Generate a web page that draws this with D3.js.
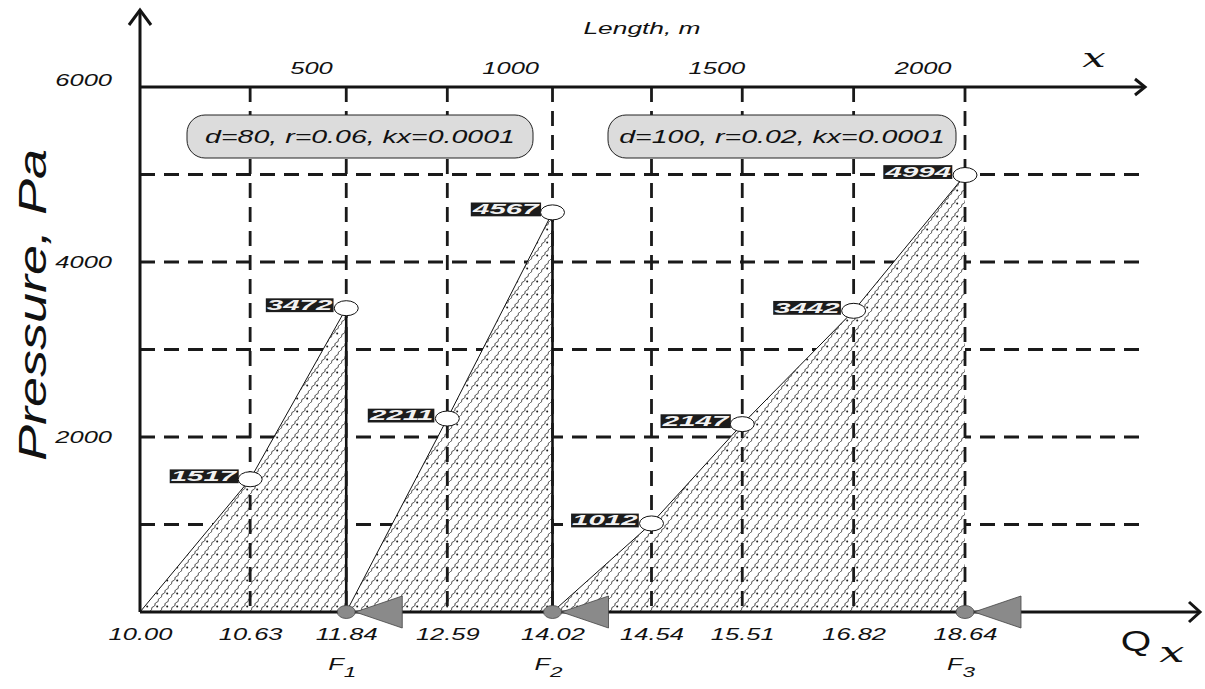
<!DOCTYPE html>
<html><head><meta charset="utf-8">
<script src="https://cdn.jsdelivr.net/npm/d3@7"></script>
<style>html,body{margin:0;padding:0;background:#fff}</style>
</head><body>
<svg id="chart" width="1205" height="689"></svg>
<script>
// Node positions along the pipeline (metres) and the flow at each node
const nodeLength = [0, 267, 500, 745, 1000, 1240, 1460, 1730, 2000];
const flowLabels = ["10.00", "10.63", "11.84", "12.59", "14.02", "14.54", "15.51", "16.82", "18.64"];

// Pressure build-up along each section (Pa)
const section1Length = [0, 267, 500];
const section1Pressure = [0, 1517, 3472];
const section2Length = [500, 745, 1000];
const section2Pressure = [0, 2211, 4567];
const section3Length = [1000, 1240, 1460, 1730, 2000];
const section3Pressure = [0, 1012, 2147, 3442, 4994];

// Inflow sources F1..F3
const sourceLength = [500, 1000, 2000];
const sourceNames = ["1", "2", "3"];

// Pipe parameters
const sectionParams = ["d=80, r=0.06, kx=0.0001", "d=100, r=0.02, kx=0.0001"];

// Axis ticks
const lengthTicks = [500, 1000, 1500, 2000];
const pressureTicks = [2000, 4000, 6000];
const pressureGrid = [1000, 2000, 3000, 4000, 5000];

const sections = [
  {len: section1Length, p: section1Pressure, edge: "solid"},
  {len: section2Length, p: section2Pressure, edge: "solid"},
  {len: section3Length, p: section3Pressure, edge: "none"}
];

const FONT = "'Liberation Sans', Arial, sans-serif";
const SX = 1.5; // horizontal stretch of the lettering

const svg = d3.select("#chart");
const x = d3.scaleLinear().domain([0, 2000]).range([140, 965]);
const y = d3.scaleLinear().domain([0, 6000]).range([612, 87]);
const xEnd = 1145, qEnd = 1200, yTop = 10;
const fmt = d3.format("d");

// hatch pattern: wavy diagonal strokes with dots
const defs = svg.append("defs");
const pw = 10, ph = 13;
const pat = defs.append("pattern").attr("id", "hatch")
  .attr("patternUnits", "userSpaceOnUse").attr("width", pw).attr("height", ph);
pat.append("rect").attr("width", pw).attr("height", ph).attr("fill", "#fff");
const len = Math.hypot(pw, ph), nx = ph / len, ny = pw / len;
let dp = "";
for (let i = 0; i <= 48; i++) {
  const t = i / 48;
  const w = 0.5 * Math.sin(t * Math.PI * 2 * 3);
  const px = pw * t + nx * w, py = ph - ph * t + ny * w;
  dp += (i ? "L" : "M") + px.toFixed(2) + "," + py.toFixed(2);
}
[-pw, 0, pw].forEach(o => {
  pat.append("path").attr("d", dp).attr("transform", `translate(${o},0)`)
    .attr("fill", "none").attr("stroke", "#222").attr("stroke-width", 1);
});
pat.append("circle").attr("cx", 7.2).attr("cy", 8.5).attr("r", 1).attr("fill", "#1a1a1a");

const dash = "15,9";

// horizontal grid
svg.append("g").selectAll("line").data(pressureGrid).join("line")
  .attr("x1", x(0)).attr("x2", xEnd).attr("y1", d => y(d)).attr("y2", d => y(d))
  .attr("stroke", "#1a1a1a").attr("stroke-width", 2.8).attr("stroke-dasharray", dash);

// pressure areas
const area = d3.area().x(d => x(d[0])).y0(y(0)).y1(d => y(d[1]));
const line = d3.line().x(d => x(d[0])).y(d => y(d[1]));
sections.forEach(s => {
  const pts = s.len.map((l, i) => [l, s.p[i]]);
  svg.append("path").attr("d", area(pts)).attr("fill", "url(#hatch)");
  svg.append("path").attr("d", line(pts)).attr("fill", "none")
    .attr("stroke", "#111").attr("stroke-width", 1);
  if (s.edge === "solid") {
    const last = pts[pts.length - 1];
    svg.append("line").attr("x1", x(last[0])).attr("x2", x(last[0]))
      .attr("y1", y(last[1])).attr("y2", y(0))
      .attr("stroke", "#111").attr("stroke-width", 2.6);
  }
});

// vertical grid at the nodes
svg.append("g").selectAll("line").data(nodeLength.slice(1)).join("line")
  .attr("x1", d => x(d)).attr("x2", d => x(d)).attr("y1", y(6000)).attr("y2", y(0))
  .attr("stroke", "#1a1a1a").attr("stroke-width", 2.8).attr("stroke-dasharray", dash);

// axes lines with open arrowheads
function axisPath(d) {
  svg.append("path").attr("d", d).attr("fill", "none")
    .attr("stroke", "#141414").attr("stroke-width", 3);
}
axisPath(`M${x(0)},${y(0)}V${yTop}`);
axisPath(`M${x(0) - 11},${yTop + 15}L${x(0)},${yTop}L${x(0) + 11},${yTop + 15}`);
axisPath(`M${x(0)},${y(6000)}H${xEnd}`);
axisPath(`M${xEnd - 10},${y(6000) - 8}L${xEnd},${y(6000)}L${xEnd - 10},${y(6000) + 8}`);
axisPath(`M${x(0)},${y(0)}H${qEnd}`);
axisPath(`M${qEnd - 11},${y(0) - 10}L${qEnd},${y(0)}L${qEnd - 11},${y(0) + 10}`);

// bottom axis: flow values at the nodes
const gBottom = svg.append("g").attr("transform", `translate(0,${y(0)})`)
  .call(d3.axisBottom(x).tickValues(nodeLength).tickSize(0)
    .tickFormat((d, i) => flowLabels[i]));
gBottom.select(".domain").remove();
gBottom.selectAll("text").attr("y", 28).attr("dy", 0)
  .attr("transform", `scale(${SX},1)`)
  .style("font", `italic 17px ${FONT}`).attr("fill", "#111");

// top axis: length
const gTop = svg.append("g").attr("transform", `translate(0,${y(6000)})`)
  .call(d3.axisTop(x).tickValues(lengthTicks).tickSize(0).tickFormat(fmt));
gTop.select(".domain").remove();
gTop.selectAll("text").attr("y", -13).attr("dy", 0).attr("x", -14 / SX)
  .attr("text-anchor", "end").attr("transform", `scale(${SX},1)`)
  .style("font", `italic 17px ${FONT}`).attr("fill", "#111");

// left axis: pressure
const gLeft = svg.append("g").attr("transform", `translate(${x(0)},0)`)
  .call(d3.axisLeft(y).tickValues(pressureTicks).tickSize(0).tickFormat(fmt));
gLeft.select(".domain").remove();
gLeft.selectAll("text").attr("x", -28 / SX).attr("dy", d => d === 6000 ? "-0.1em" : "0.3em")
  .attr("transform", `scale(${SX},1)`)
  .style("font", `italic 17px ${FONT}`).attr("fill", "#111");

function stretched(px, py, txt, size, anchor, sx, style) {
  const g = svg.append("g").attr("transform", `translate(${px},${py}) scale(${sx},1)`);
  const t = g.append("text").attr("text-anchor", anchor)
    .style("font", style || `italic ${size}px ${FONT}`).attr("fill", "#111").text(txt);
  return {g, t};
}

// axis titles
stretched(642, 34, "Length, m", 17, "middle", 1.55);
svg.append("text").attr("transform", "translate(46,305) rotate(-90)")
  .attr("text-anchor", "middle").style("font", `italic 38px ${FONT}`)
  .attr("textLength", 312).attr("lengthAdjust", "spacingAndGlyphs")
  .attr("fill", "#111").text("Pressure, Pa");
stretched(1094, 67, "x", 26, "middle", 1.6, "italic 26px 'DejaVu Serif', serif");
stretched(1136, 651, "Q", 29, "middle", 1.35, `normal 29px ${FONT}`);
stretched(1172, 662, "x", 28, "middle", 1.6, "italic 28px 'DejaVu Serif', serif");

// parameter boxes
const boxes = [{x0: 187, x1: 533}, {x0: 608, x1: 956}];
boxes.forEach((b, i) => {
  svg.append("rect").attr("x", b.x0).attr("y", 115).attr("width", b.x1 - b.x0).attr("height", 43)
    .attr("rx", 18).attr("fill", "#dcdcdc").attr("stroke", "#222").attr("stroke-width", 1);
  stretched((b.x0 + b.x1) / 2, 143, sectionParams[i], 19, "middle", SX);
});

// pressure points with labels
sections.forEach(s => {
  s.len.forEach((l, i) => {
    if (i === 0) return;
    const cx = x(l), cy = y(s.p[i]);
    const lab = svg.append("g").attr("transform", `translate(${cx - 14},${cy - 3}) scale(2.1,1)`);
    const t = lab.append("text").attr("text-anchor", "end").attr("dy", "0.35em")
      .style("font", `italic bold 14px ${FONT}`).attr("fill", "#f2f2f2").text(fmt(s.p[i]));
    const bb = t.node().getBBox();
    lab.insert("rect", "text").attr("x", bb.x - 0.5).attr("y", bb.y + 1)
      .attr("width", bb.width + 1).attr("height", bb.height - 2).attr("fill", "#1c1c1c");
    svg.append("ellipse").attr("cx", cx).attr("cy", cy).attr("rx", 12).attr("ry", 7.5)
      .attr("fill", "#fff").attr("stroke", "#111").attr("stroke-width", 1);
  });
});

// inflow sources
sourceLength.forEach((l, i) => {
  const cx = x(l), cy = y(0);
  svg.append("path")
    .attr("d", `M${cx + 9},${cy}L${cx + 56},${cy - 16}L${cx + 56},${cy + 16}Z`)
    .attr("fill", "#8a8a8a").attr("stroke", "#444").attr("stroke-width", 0.8);
  svg.append("ellipse").attr("cx", cx).attr("cy", cy).attr("rx", 9).attr("ry", 6.5)
    .attr("fill", "#8a8a8a").attr("stroke", "#444").attr("stroke-width", 0.8);
  const f = stretched(cx - 4, 670, "F", 17, "middle", SX);
  f.t.append("tspan").attr("dy", 7).style("font-size", "15px").text(sourceNames[i]);
});
</script>
</body></html>
